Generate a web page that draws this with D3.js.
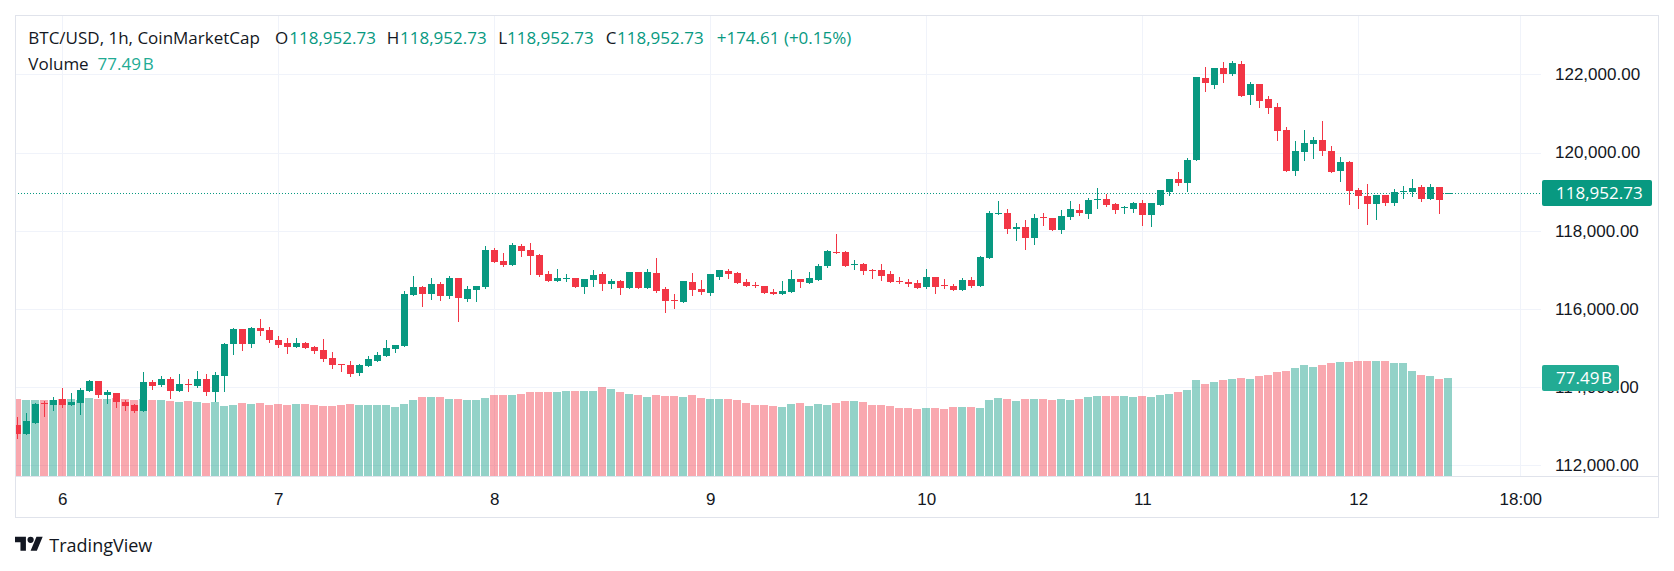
<!DOCTYPE html>
<html lang="en">
  <head>
    <meta charset="UTF-8" />
    <title>BTC/USD, 1h, CoinMarketCap</title>
    <script src="https://d3js.org/d3.v7.min.js"></script>
    <style>
      body {
        margin: 0;
        background: #fff;
      }
      svg {
        display: block;
        font-family: "Open Sans", sans-serif;
      }
      .grid line {
        stroke: #f0f3fa;
        shape-rendering: crispEdges;
      }
      .frame line {
        stroke: #e0e3eb;
        shape-rendering: crispEdges;
      }
      .axis text {
        fill: #131722;
        font-size: 17px;
      }
      .legend text {
        font-size: 17px;
      }
    </style>
  </head>
  <body>
    <svg id="chart" width="1674" height="571"></svg>

    <script>
      // hourly bars, first one is Aug 5 19:00
      const firstBar = Date.UTC(2025, 7, 5, 19);

      const opens = [
        113029, 112807, 113089, 113583, 113549, 113694, 113549, 113600, 113907, 114155,
        113805, 113848, 113617, 113541, 113396, 114129, 114061, 114206, 113907, 114078,
        114035, 114206, 113882, 114291, 115110, 115485, 115110, 115510, 115459, 115203,
        115127, 115033, 115127, 115024, 114947, 114743, 114598, 114564, 114368, 114547,
        114675, 114803, 114982, 115058, 116363, 116559, 116389, 116636, 116329, 116789,
        116261, 116491, 116568, 117506, 117224, 117130, 117608, 117506, 117378, 116892,
        116721, 116772, 116789, 116568, 116738, 116892, 116644, 116713, 116542, 116943,
        116542, 116917, 116508, 116226, 116184, 116687, 116508, 116414, 116823, 116968,
        116917, 116687, 116610, 116585, 116431, 116389, 116440, 116764, 116670, 116738,
        117096, 117463, 117454, 117122, 117147, 117002, 116994, 116892, 116721, 116687,
        116661, 116559, 116815, 116610, 116585, 116482, 116738, 116585, 117301, 118426,
        118452, 118051, 118094, 117812, 118350, 118324, 118017, 118350, 118529, 118426,
        118785, 118810, 118682, 118571, 118554, 118708, 118401, 118657, 118989, 119322,
        119219, 119808, 121905, 121726, 122161, 122008, 122263, 121470, 121752, 121368,
        121164, 120575, 119526, 120012, 120217, 120319, 120038, 119526, 119757, 119040,
        118887, 118682, 118912, 118708, 118989, 118989, 119117, 118810, 119117, 118952.73
      ];
      const highs = [
        113242, 113336, 113592, 113643, 113745, 113975, 113848, 113975, 114180, 114155,
        113924, 113848, 113668, 113566, 114385, 114180, 114282, 114257, 114334, 114206,
        114410, 114334, 114385, 115127, 115510, 115485, 115536, 115741, 115536, 115306,
        115255, 115255, 115152, 115050, 115229, 114896, 114598, 114666, 114589, 114794,
        114896, 115203, 115075, 116457, 116840, 116585, 116789, 116687, 116840, 116789,
        116585, 116585, 117608, 117557, 117429, 117685, 117659, 117685, 117403, 116968,
        117020, 116892, 116789, 116764, 116994, 116943, 116764, 116738, 116943, 116943,
        117020, 117301, 116559, 116380, 116713, 116917, 116738, 116892, 116994, 117020,
        116943, 116764, 116687, 116585, 116508, 116713, 116994, 116764, 116943, 117147,
        117506, 117915, 117480, 117250, 117173, 117020, 117147, 116968, 116815, 116764,
        116738, 117020, 116815, 116764, 116636, 116789, 116815, 117352, 118503, 118759,
        118554, 118196, 118273, 118426, 118452, 118324, 118529, 118759, 118682, 118836,
        119092, 118938, 118708, 118631, 118733, 118785, 118708, 119040, 119322, 119501,
        119859, 121931, 122187, 122161, 122315, 122340, 122340, 121803, 121752, 121445,
        121266, 120652, 120294, 120575, 120396, 120805, 120166, 119884, 119782, 119091,
        119194, 118912, 118912, 119066, 119143, 119322, 119168, 119194, 119117, 118952.73
      ];
      const lows = [
        112705, 112807, 113089, 113268, 113421, 113498, 113549, 113319, 113907, 113754,
        113600, 113498, 113421, 113370, 113396, 113958, 114035, 113728, 113907, 113907,
        114010, 113805, 113651, 113907, 114854, 114956, 115033, 115340, 115161, 115033,
        114879, 115033, 115007, 114879, 114675, 114496, 114419, 114291, 114317, 114547,
        114675, 114803, 114905, 115058, 116363, 116082, 116261, 116235, 116286, 115698,
        116209, 116209, 116542, 117207, 117105, 117130, 117361, 116900, 116849, 116721,
        116721, 116721, 116568, 116414, 116593, 116491, 116542, 116389, 116542, 116542,
        116542, 116440, 115928, 116030, 116184, 116363, 116389, 116363, 116772, 116798,
        116670, 116593, 116568, 116414, 116389, 116389, 116440, 116568, 116670, 116738,
        117071, 117437, 117096, 117020, 116892, 116789, 116738, 116687, 116661, 116585,
        116534, 116534, 116406, 116534, 116482, 116482, 116559, 116585, 117301, 118426,
        117940, 117761, 117531, 117659, 118145, 118017, 117940, 118299, 118401, 118324,
        118580, 118631, 118452, 118452, 118478, 118145, 118119, 118657, 118912, 119168,
        119015, 119808, 121573, 121650, 121803, 121982, 121445, 121240, 121164, 121010,
        120319, 119526, 119424, 119808, 119859, 119936, 119501, 119271, 118682, 118580,
        118170, 118298, 118657, 118657, 118836, 118887, 118759, 118810, 118452, 118952.73
      ];
      const closes = [
        112807, 113131, 113566, 113566, 113668, 113549, 113617, 113924, 114155, 113805,
        113873, 113626, 113524, 113396, 114129, 114035, 114206, 113907, 114078, 114061,
        114206, 113882, 114308, 115101, 115485, 115110, 115510, 115442, 115212, 115084,
        115033, 115127, 115007, 114930, 114726, 114572, 114572, 114342, 114564, 114717,
        114820, 114999, 115075, 116380, 116559, 116389, 116636, 116337, 116789, 116286,
        116508, 116585, 117506, 117207, 117130, 117633, 117488, 117361, 116875, 116721,
        116789, 116789, 116568, 116764, 116866, 116644, 116713, 116542, 116943, 116542,
        116943, 116465, 116209, 116209, 116713, 116491, 116440, 116892, 116994, 116900,
        116670, 116593, 116593, 116414, 116389, 116465, 116764, 116687, 116789, 117096,
        117480, 117437, 117096, 117147, 116968, 116977, 116840, 116687, 116696, 116636,
        116534, 116815, 116559, 116585, 116482, 116738, 116585, 117326, 118452, 118452,
        118043, 118085, 117812, 118324, 118324, 118017, 118375, 118554, 118452, 118785,
        118810, 118657, 118529, 118597, 118708, 118401, 118708, 119040, 119322, 119219,
        119808, 121931, 121777, 122161, 122008, 122289, 121445, 121752, 121317, 121138,
        120550, 119526, 120038, 120243, 120319, 120038, 119501, 119757, 119015, 118887,
        118682, 118912, 118708, 118989, 119015, 119091, 118810, 119117, 118778.12, 118952.73
      ];
      // volume, billions USD
      const volumes = [
        60.9, 60.1, 60.1, 60.1, 60.1, 60.9, 60.9, 60.1, 61.7, 60.9,
        60.9, 61.7, 60.9, 60.1, 60.9, 60.1, 60.1, 59.3, 58.5, 59.3,
        58.5, 57.7, 58.5, 55.3, 56.1, 57.7, 56.9, 57.7, 56.1, 56.9,
        56.1, 56.9, 56.9, 56.1, 55.3, 55.3, 56.1, 56.9, 56.1, 56.1,
        56.1, 56.1, 54.6, 56.9, 60.1, 62.5, 62.5, 62.5, 60.9, 60.9,
        60.1, 60.1, 61.7, 64.0, 64.0, 64.0, 64.8, 66.4, 66.4, 66.4,
        66.4, 67.2, 67.2, 67.2, 67.2, 70.4, 68.8, 66.4, 64.8, 64.0,
        62.5, 64.0, 63.3, 63.3, 62.5, 64.0, 61.7, 60.9, 60.9, 60.9,
        60.1, 57.7, 56.1, 56.1, 55.3, 54.6, 56.9, 57.7, 55.3, 56.9,
        56.1, 57.7, 59.3, 59.3, 58.5, 56.1, 56.1, 55.3, 53.8, 53.8,
        53.0, 53.8, 53.8, 53.0, 54.6, 54.6, 54.6, 53.8, 60.1, 61.7,
        60.9, 59.3, 60.9, 60.9, 60.9, 60.1, 60.9, 60.1, 60.9, 62.5,
        63.3, 63.3, 63.3, 63.3, 62.5, 63.3, 62.5, 64.0, 64.8, 66.4,
        68.0, 75.9, 72.7, 74.3, 75.9, 76.7, 77.5, 76.7, 79.1, 79.9,
        82.2, 83.0, 85.4, 87.8, 86.2, 87.8, 89.4, 90.1, 90.1, 90.9,
        90.9, 90.9, 90.9, 89.4, 89.4, 83.0, 79.9, 79.1, 76.7, 77.49
      ];

      const priceTicks = [112000, 114000, 116000, 118000, 120000, 122000];
      const timeTicks = [
        Date.UTC(2025, 7, 6), Date.UTC(2025, 7, 7), Date.UTC(2025, 7, 8),
        Date.UTC(2025, 7, 9), Date.UTC(2025, 7, 10), Date.UTC(2025, 7, 11),
        Date.UTC(2025, 7, 12), Date.UTC(2025, 7, 12, 18)
      ];
      const timeLabels = ["6", "7", "8", "9", "10", "11", "12", "18:00"];

      const symbolTitle = "BTC/USD, 1h, CoinMarketCap";
      const prevClose = 118778.12;

      const up = "#089981";
      const down = "#f23645";
      const ink = "#131722";

      const svg = d3.select("#chart");
      const pane = { left: 15, top: 15, right: 1541, bottom: 476 };
      const axisRight = 1658;
      const axisBottom = 517.7;

      const bars = opens.map((o, i) => ({
        t: new Date(firstBar + i * 3600e3),
        o: o,
        h: highs[i],
        l: lows[i],
        c: closes[i],
        v: volumes[i]
      }));
      const last = bars[bars.length - 1];

      // scales
      const x = d3
        .scaleUtc()
        .domain([new Date(timeTicks[0]), new Date(timeTicks[timeTicks.length - 1])])
        .range([62.3, 1520.3]);
      const y = d3.scaleLinear().domain([112000, 122000]).range([465.3, 74.3]);
      const yVol = d3
        .scaleLinear()
        .domain([0, 100])
        .range([pane.bottom, pane.bottom - 126.5]);

      const fmt = d3.format(",.2f");
      const px = (d) => Math.round(x(d.t));

      svg
        .append("defs")
        .append("clipPath")
        .attr("id", "pane-clip")
        .append("rect")
        .attr("x", pane.left)
        .attr("y", pane.top)
        .attr("width", pane.right - pane.left)
        .attr("height", pane.bottom - pane.top);

      // grid
      const grid = svg.append("g").attr("class", "grid");
      grid
        .selectAll(".h")
        .data(priceTicks)
        .enter()
        .append("line")
        .attr("x1", pane.left)
        .attr("x2", pane.right)
        .attr("y1", (d) => Math.round(y(d)) + 0.5)
        .attr("y2", (d) => Math.round(y(d)) + 0.5);
      grid
        .selectAll(".v")
        .data(timeTicks)
        .enter()
        .append("line")
        .attr("x1", (d) => Math.round(x(d)) + 0.5)
        .attr("x2", (d) => Math.round(x(d)) + 0.5)
        .attr("y1", pane.top)
        .attr("y2", pane.bottom);

      const plot = svg.append("g").attr("clip-path", "url(#pane-clip)");

      // volume
      plot
        .selectAll(".vol")
        .data(bars)
        .enter()
        .append("rect")
        .attr("x", (d) => px(d) - 4)
        .attr("width", 8)
        .attr("y", (d) => Math.round(yVol(d.v)))
        .attr("height", (d) => pane.bottom - Math.round(yVol(d.v)))
        .attr("fill", (d) => (d.c >= d.o ? up : down))
        .attr("fill-opacity", (d) => (d.c >= d.o ? 0.44 : 0.43))
        .attr("shape-rendering", "crispEdges");

      // current price line
      plot
        .append("line")
        .attr("x1", pane.left)
        .attr("x2", pane.right)
        .attr("y1", Math.round(y(last.c)) + 0.5)
        .attr("y2", Math.round(y(last.c)) + 0.5)
        .attr("stroke", up)
        .attr("stroke-width", 1)
        .attr("stroke-dasharray", "1 2");

      // candles
      const candle = plot
        .selectAll(".candle")
        .data(bars)
        .enter()
        .append("g")
        .attr("fill", (d) => (d.c >= d.o ? up : down))
        .attr("stroke", (d) => (d.c >= d.o ? up : down));

      candle
        .append("line")
        .attr("x1", (d) => px(d) + 0.5)
        .attr("x2", (d) => px(d) + 0.5)
        .attr("y1", (d) => Math.round(y(d.h)))
        .attr("y2", (d) => Math.round(y(d.l)) + 1)
        .attr("stroke-width", 1)
        .attr("shape-rendering", "crispEdges");

      candle
        .append("rect")
        .attr("x", (d) => px(d) - 3)
        .attr("width", 7)
        .attr("y", (d) => Math.round(y(Math.max(d.o, d.c))))
        .attr("height", (d) =>
          Math.max(1, Math.round(y(Math.min(d.o, d.c))) - Math.round(y(Math.max(d.o, d.c))))
        )
        .attr("stroke", "none")
        .attr("shape-rendering", "crispEdges");

      // frame
      const frame = svg.append("g").attr("class", "frame");
      frame.append("line").attr("x1", pane.left).attr("x2", axisRight).attr("y1", pane.top + 0.5).attr("y2", pane.top + 0.5);
      frame.append("line").attr("x1", pane.left).attr("x2", axisRight).attr("y1", pane.bottom + 0.5).attr("y2", pane.bottom + 0.5);
      frame.append("line").attr("x1", pane.left).attr("x2", axisRight).attr("y1", axisBottom).attr("y2", axisBottom);
      frame.append("line").attr("x1", pane.left + 0.5).attr("x2", pane.left + 0.5).attr("y1", pane.top).attr("y2", axisBottom);
      frame.append("line").attr("x1", axisRight + 0.5).attr("x2", axisRight + 0.5).attr("y1", pane.top).attr("y2", axisBottom);

      // price axis
      svg
        .append("g")
        .attr("class", "axis")
        .attr("transform", `translate(${pane.right},0)`)
        .call(d3.axisRight(y).tickValues(priceTicks).tickSize(0).tickPadding(14).tickFormat(fmt))
        .call((g) => g.select(".domain").remove())
        .selectAll("text")
        .attr("font-family", null)
        .attr("font-size", null);

      // time axis
      svg
        .append("g")
        .attr("class", "axis")
        .attr("transform", `translate(0,${pane.bottom})`)
        .call(
          d3
            .axisBottom(x)
            .tickValues(timeTicks.map((d) => new Date(d)))
            .tickSize(0)
            .tickPadding(17)
            .tickFormat((d, i) => timeLabels[i])
        )
        .call((g) => g.select(".domain").remove())
        .selectAll("text")
        .attr("font-family", null)
        .attr("font-size", null);

      // last price / last volume tags
      const tags = svg.append("g").attr("class", "legend");
      tags
        .append("rect")
        .attr("x", pane.right + 1)
        .attr("y", Math.round(y(last.c)) - 13)
        .attr("width", 110)
        .attr("height", 26)
        .attr("rx", 2)
        .attr("fill", up);
      tags
        .append("text")
        .attr("x", pane.right + 15)
        .attr("y", y(last.c))
        .attr("dy", "0.35em")
        .attr("fill", "#fff")
        .text(fmt(last.c));

      tags
        .append("rect")
        .attr("x", pane.right + 1)
        .attr("y", Math.round(yVol(last.v)) - 13)
        .attr("width", 77)
        .attr("height", 26)
        .attr("rx", 2)
        .attr("fill", "#22ab94");
      tags
        .append("text")
        .attr("x", pane.right + 15)
        .attr("y", yVol(last.v))
        .attr("dy", "0.35em")
        .attr("fill", "#fff")
        .text(last.v.toFixed(2) + "\u200aB");

      // legend in the top left corner
      const legend = svg.append("g").attr("class", "legend");
      const row1 = 44;
      const row2 = 70;
      const change = last.c - prevClose;
      const pieces = [
        [28.3, symbolTitle, ink],
        [275, "O", ink],
        [289.3, fmt(last.o), up],
        [386.7, "H", ink],
        [400, fmt(last.h), up],
        [498.3, "L", ink],
        [507, fmt(last.l), up],
        [605.7, "C", ink],
        [617, fmt(last.c), up],
        [716.7, `+${fmt(change)} (+${((change / prevClose) * 100).toFixed(2)}%)`, up]
      ];
      legend
        .selectAll(".row1")
        .data(pieces)
        .enter()
        .append("text")
        .attr("x", (d) => d[0])
        .attr("y", row1)
        .attr("fill", (d) => d[2])
        .text((d) => d[1]);
      legend.append("text").attr("x", 28.3).attr("y", row2).attr("fill", ink).text("Volume");
      legend
        .append("text")
        .attr("x", 97.6)
        .attr("y", row2)
        .attr("fill", "#22ab94")
        .text(last.v.toFixed(2) + "\u200aB");

      // TradingView mark
      const brand = svg.append("g").attr("transform", "translate(15,533.6) scale(0.78)");
      brand.append("path").attr("d", "M14 22H7V11H0V4h14v18zM28 22h-8l7.5-18h8L28 22z").attr("fill", ink);
      brand.append("circle").attr("cx", 20).attr("cy", 8).attr("r", 4).attr("fill", ink);
      svg
        .append("text")
        .attr("x", 49.3)
        .attr("y", 551.7)
        .attr("fill", ink)
        .attr("font-size", 18)
        .text("TradingView");
    </script>
  </body>
</html>
